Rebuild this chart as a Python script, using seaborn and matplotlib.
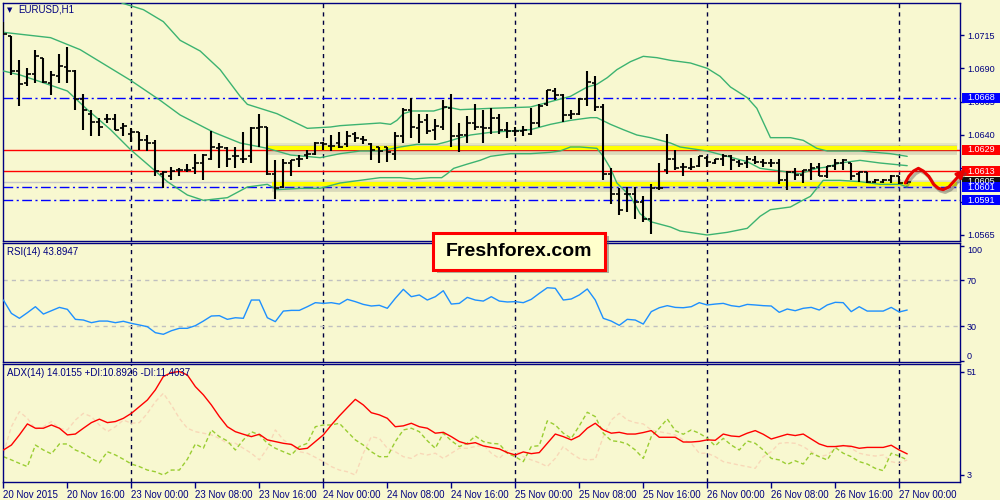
import matplotlib
matplotlib.use("Agg")
import matplotlib.pyplot as plt
import matplotlib.patheffects as pe
import matplotlib.transforms as mtrans
from matplotlib.patches import Rectangle
import numpy as np
import pandas as pd
import seaborn as sns

BG = "#f8f8d0"
NAVY = "#000080"

sns.set_style("white", {"axes.facecolor": BG})
plt.rcParams["font.family"] = ["Liberation Sans", "DejaVu Sans"]

# EURUSD H1 bars, 20 Nov 2015 08:00 .. 27 Nov 2015 01:00 (weekend hours skipped)
bar_open = [1.0724, 1.0714, 1.0688, 1.0679, 1.0686, 1.0698, 1.0679, 1.0684, 1.0691, 1.0688,
            1.0667, 1.0656, 1.0650, 1.0652, 1.0652, 1.0645, 1.0641, 1.0642, 1.0636, 1.0634,
            1.0611, 1.0609, 1.0614, 1.0614, 1.0615, 1.0619, 1.0622, 1.0630, 1.0630, 1.0624,
            1.0622, 1.0624, 1.0645, 1.0646, 1.0611, 1.0601, 1.0619, 1.0622, 1.0625, 1.0626,
            1.0634, 1.0632, 1.0634, 1.0633, 1.0641, 1.0637, 1.0633, 1.0631, 1.0631, 1.0626,
            1.0639, 1.0659, 1.0645, 1.0651, 1.0644, 1.0646, 1.0660, 1.0639, 1.0640, 1.0649,
            1.0646, 1.0645, 1.0653, 1.0644, 1.0643, 1.0643, 1.0641, 1.0649, 1.0663, 1.0673,
            1.0670, 1.0655, 1.0656, 1.0667, 1.0679, 1.0661, 1.0611, 1.0596, 1.0596, 1.0596,
            1.0590, 1.0577, 1.0600, 1.0614, 1.0622, 1.0616, 1.0615, 1.0617, 1.0623, 1.0619,
            1.0622, 1.0624, 1.0620, 1.0619, 1.0621, 1.0620, 1.0619, 1.0619, 1.0606, 1.0612,
            1.0610, 1.0614, 1.0616, 1.0609, 1.0617, 1.0619, 1.0619, 1.0611, 1.0612, 1.0605,
            1.0605, 1.0606, 1.0609, 1.0604]
bar_high = [1.0725, 1.0714, 1.0696, 1.0690, 1.0704, 1.0698, 1.0688, 1.0701, 1.0706, 1.0689,
            1.0671, 1.0659, 1.0653, 1.0656, 1.0656, 1.0649, 1.0645, 1.0642, 1.0640, 1.0636,
            1.0613, 1.0616, 1.0615, 1.0618, 1.0626, 1.0626, 1.0643, 1.0634, 1.0631, 1.0631,
            1.0642, 1.0646, 1.0656, 1.0646, 1.0621, 1.0622, 1.0621, 1.0625, 1.0629, 1.0635,
            1.0635, 1.0640, 1.0642, 1.0643, 1.0642, 1.0639, 1.0634, 1.0631, 1.0631, 1.0642,
            1.0660, 1.0668, 1.0656, 1.0656, 1.0652, 1.0666, 1.0671, 1.0649, 1.0654, 1.0663,
            1.0659, 1.0660, 1.0656, 1.0650, 1.0646, 1.0647, 1.0660, 1.0663, 1.0674, 1.0675,
            1.0671, 1.0659, 1.0668, 1.0688, 1.0684, 1.0663, 1.0615, 1.0600, 1.0601, 1.0601,
            1.0594, 1.0603, 1.0619, 1.0641, 1.0629, 1.0619, 1.0623, 1.0624, 1.0624, 1.0622,
            1.0626, 1.0625, 1.0621, 1.0624, 1.0624, 1.0622, 1.0622, 1.0622, 1.0613, 1.0615,
            1.0614, 1.0619, 1.0619, 1.0617, 1.0622, 1.0622, 1.0619, 1.0612, 1.0612, 1.0607,
            1.0607, 1.0610, 1.0609, 1.0606]
bar_low = [1.0715, 1.0685, 1.0662, 1.0677, 1.0679, 1.0679, 1.0670, 1.0679, 1.0679, 1.0659,
           1.0644, 1.0639, 1.0639, 1.0649, 1.0644, 1.0639, 1.0635, 1.0629, 1.0628, 1.0609,
           1.0600, 1.0606, 1.0609, 1.0612, 1.0611, 1.0606, 1.0621, 1.0615, 1.0616, 1.0615,
           1.0619, 1.0619, 1.0631, 1.0610, 1.0592, 1.0600, 1.0609, 1.0616, 1.0622, 1.0625,
           1.0629, 1.0628, 1.0630, 1.0631, 1.0635, 1.0633, 1.0621, 1.0619, 1.0620, 1.0621,
           1.0634, 1.0638, 1.0634, 1.0641, 1.0636, 1.0644, 1.0631, 1.0627, 1.0634, 1.0644,
           1.0634, 1.0641, 1.0641, 1.0638, 1.0639, 1.0639, 1.0640, 1.0646, 1.0662, 1.0666,
           1.0650, 1.0652, 1.0655, 1.0662, 1.0658, 1.0606, 1.0588, 1.0580, 1.0582, 1.0577,
           1.0575, 1.0566, 1.0599, 1.0611, 1.0614, 1.0609, 1.0614, 1.0616, 1.0616, 1.0618,
           1.0617, 1.0614, 1.0616, 1.0615, 1.0618, 1.0616, 1.0616, 1.0603, 1.0599, 1.0606,
           1.0604, 1.0606, 1.0609, 1.0608, 1.0614, 1.0614, 1.0606, 1.0605, 1.0604, 1.0604,
           1.0604, 1.0604, 1.0603, 1.0603]
bar_close = [1.0716, 1.0688, 1.0678, 1.0686, 1.0699, 1.0680, 1.0685, 1.0692, 1.0688, 1.0667,
             1.0659, 1.0650, 1.0646, 1.0652, 1.0644, 1.0647, 1.0642, 1.0636, 1.0634, 1.0613,
             1.0612, 1.0613, 1.0614, 1.0614, 1.0619, 1.0625, 1.0631, 1.0631, 1.0622, 1.0624,
             1.0622, 1.0645, 1.0646, 1.0611, 1.0600, 1.0619, 1.0621, 1.0622, 1.0626, 1.0634,
             1.0633, 1.0632, 1.0631, 1.0639, 1.0638, 1.0636, 1.0629, 1.0628, 1.0627, 1.0639,
             1.0659, 1.0646, 1.0650, 1.0643, 1.0647, 1.0661, 1.0639, 1.0640, 1.0649, 1.0646,
             1.0645, 1.0653, 1.0644, 1.0643, 1.0643, 1.0644, 1.0649, 1.0662, 1.0674, 1.0670,
             1.0655, 1.0656, 1.0667, 1.0680, 1.0661, 1.0611, 1.0596, 1.0584, 1.0596, 1.0590,
             1.0577, 1.0600, 1.0600, 1.0622, 1.0615, 1.0616, 1.0616, 1.0624, 1.0620, 1.0622,
             1.0624, 1.0621, 1.0618, 1.0622, 1.0620, 1.0619, 1.0619, 1.0606, 1.0612, 1.0610,
             1.0614, 1.0615, 1.0609, 1.0617, 1.0619, 1.0621, 1.0609, 1.0612, 1.0605, 1.0606,
             1.0606, 1.0609, 1.0604, 1.0605]

# Bollinger bands (read as bar position / price)
bb_up_x = [14.8, 17.5, 20.0, 22.1, 24.6, 27.1, 29.6, 30.5, 34.2, 38.0, 40.9, 42.1, 44.6, 47.1,
           48.4, 49.2, 50.0, 51.1, 53.8, 55.5, 57.1, 60.9, 65.9, 68.4, 70.9, 73.0, 74.2, 75.5,
           76.7, 78.4, 80.0, 81.7, 83.4, 85.9, 88.0, 89.6, 90.9, 93.0, 94.2, 95.9, 98.4, 100.0,
           101.7, 103.0, 107.1, 110.9, 113.0]
bb_up_y = [1.0739, 1.0734, 1.0725, 1.0711, 1.0703, 1.0689, 1.0669, 1.0663, 1.0656, 1.0645,
           1.0646, 1.0647, 1.0648, 1.0649, 1.0648, 1.0651, 1.0656, 1.0658, 1.0658, 1.0661,
           1.0659, 1.0660, 1.0661, 1.0665, 1.0669, 1.0676, 1.0678, 1.0683, 1.0689, 1.0695,
           1.0699, 1.0698, 1.0696, 1.0694, 1.0690, 1.0684, 1.0676, 1.0668, 1.0660, 1.0638,
           1.0638, 1.0636, 1.0630, 1.0628, 1.0628, 1.0626, 1.0624]
bb_mid_x = [0.0, 5.9, 9.6, 15.9, 19.6, 22.1, 26.3, 29.6, 33.0, 35.9, 39.6, 42.1, 44.6, 47.1,
            49.6, 51.7, 54.2, 55.5, 57.1, 58.4, 60.9, 63.4, 65.9, 68.4, 70.9, 73.4, 74.2, 75.9,
            77.5, 79.2, 80.9, 83.4, 84.6, 88.0, 90.5, 93.0, 94.6, 97.1, 99.6, 101.7, 103.0,
            104.6, 107.1, 109.6, 111.3, 113.0]
bb_mid_y = [1.0717, 1.0713, 1.0704, 1.0681, 1.0666, 1.0655, 1.0642, 1.0634, 1.0630, 1.0625,
            1.0623, 1.0626, 1.0628, 1.0628, 1.0631, 1.0633, 1.0633, 1.0635, 1.0638, 1.0640,
            1.0642, 1.0643, 1.0644, 1.0648, 1.0651, 1.0653, 1.0653, 1.0648, 1.0644, 1.0640,
            1.0638, 1.0634, 1.0631, 1.0628, 1.0624, 1.0620, 1.0615, 1.0613, 1.0611, 1.0615,
            1.0616, 1.0619, 1.0621, 1.0619, 1.0618, 1.0617]
bb_lo_x = [0.0, 2.1, 4.6, 8.0, 10.5, 13.4, 15.9, 18.8, 20.5, 23.0, 25.0, 28.0, 30.5, 33.0,
           34.2, 37.1, 39.6, 42.1, 44.6, 47.1, 49.6, 51.3, 53.4, 54.8, 55.5, 56.3, 57.9, 59.6,
           60.9, 63.4, 65.9, 68.4, 69.6, 70.9, 72.1, 74.2, 75.0, 75.9, 76.7, 78.4, 79.6, 80.9,
           83.4, 84.6, 88.0, 90.5, 93.0, 94.6, 95.9, 98.4, 99.6, 100.9, 101.7, 102.5, 104.6,
           107.1, 109.6, 112.1, 113.0]
bb_lo_y = [1.0688, 1.0685, 1.0680, 1.0673, 1.0659, 1.0644, 1.0629, 1.0614, 1.0605, 1.0595,
           1.0591, 1.0593, 1.0601, 1.0603, 1.0599, 1.0600, 1.0600, 1.0604, 1.0606, 1.0608,
           1.0608, 1.0607, 1.0608, 1.0608, 1.0611, 1.0615, 1.0618, 1.0621, 1.0624, 1.0626,
           1.0626, 1.0627, 1.0628, 1.0631, 1.0631, 1.0630, 1.0624, 1.0615, 1.0604, 1.0594,
           1.0581, 1.0575, 1.0571, 1.0568, 1.0565, 1.0567, 1.0570, 1.0579, 1.0584, 1.0586,
           1.0590, 1.0594, 1.0600, 1.0606, 1.0606, 1.0605, 1.0603, 1.0603, 1.0601]

rsi = [52.6, 41.0, 36.7, 41.6, 46.8, 40.4, 43.3, 46.2, 44.5, 35.8, 35.2, 32.9, 34.3, 34.3, 32.9,
       34.1, 32.3, 30.9, 29.4, 24.2, 22.8, 25.9, 28.0, 28.0, 30.3, 34.3, 38.7, 39.0, 35.8, 37.2,
       36.7, 52.6, 52.6, 37.2, 33.8, 43.0, 43.6, 43.6, 46.8, 50.3, 49.7, 50.3, 49.1, 53.2, 51.2,
       48.8, 47.4, 48.0, 45.4, 54.1, 61.9, 55.5, 57.0, 52.6, 55.5, 60.7, 49.1, 49.7, 54.9, 52.6,
       51.7, 55.5, 51.7, 50.9, 51.2, 50.3, 53.2, 58.4, 63.3, 62.8, 52.6, 53.5, 57.0, 62.2, 52.6,
       36.7, 34.3, 30.6, 35.8, 35.2, 31.7, 42.5, 45.9, 47.7, 46.2, 45.9, 46.8, 50.3, 48.3, 49.1,
       49.7, 47.7, 46.8, 48.8, 48.3, 47.7, 47.4, 41.9, 44.8, 43.3, 45.4, 46.2, 43.9, 48.3, 50.6,
       50.3, 42.5, 46.8, 43.0, 43.0, 43.0, 46.2, 42.2, 43.9]
adx = [14.6, 16.9, 21.6, 26.7, 24.7, 24.7, 26.2, 24.7, 21.6, 22.0, 24.7, 27.3, 28.9, 27.3, 27.8,
       29.3, 31.6, 34.7, 37.8, 42.5, 48.7, 50.5, 51.0, 49.4, 44.0, 40.2, 35.5, 30.1, 25.4, 23.1,
       21.9, 20.8, 21.9, 19.3, 18.5, 17.7, 17.2, 14.9, 15.4, 18.5, 21.6, 26.2, 30.4, 34.3, 38.1,
       35.5, 31.9, 30.9, 29.3, 25.4, 25.8, 27.0, 25.4, 24.7, 22.4, 22.8, 20.8, 18.5, 17.4, 18.0,
       16.5, 15.8, 15.1, 13.4, 12.3, 13.7, 12.9, 13.4, 17.7, 22.0, 20.8, 19.3, 21.1, 24.7, 27.0,
       23.9, 22.4, 22.8, 22.0, 22.0, 22.7, 23.6, 20.5, 20.5, 20.5, 18.3, 18.3, 18.6, 19.3, 19.1,
       22.0, 21.1, 20.8, 22.4, 23.6, 21.9, 19.7, 20.8, 21.9, 21.3, 22.0, 19.7, 17.4, 16.2, 16.2,
       16.6, 16.3, 15.4, 15.8, 15.8, 15.8, 16.8, 14.6, 12.8]
plus_di = [11.5, 10.0, 8.4, 6.9, 16.9, 14.6, 12.8, 17.4, 17.4, 14.6, 13.1, 10.7, 8.7, 13.8, 12.3,
           10.3, 8.1, 6.9, 5.3, 4.5, 3.0, 5.3, 5.3, 10.3, 17.4, 15.4, 23.9, 20.8, 18.8, 14.6,
           19.3, 23.1, 21.6, 17.7, 15.4, 13.8, 12.3, 16.2, 17.7, 25.4, 26.2, 26.2, 27.0, 23.1,
           19.3, 16.9, 13.8, 11.5, 11.5, 18.5, 23.9, 24.7, 23.1, 18.9, 15.4, 22.4, 18.9, 16.2,
           17.7, 21.1, 18.5, 17.7, 17.4, 13.1, 11.5, 9.2, 16.2, 16.6, 28.1, 26.2, 22.4, 20.0,
           25.8, 32.1, 30.1, 22.4, 18.9, 18.5, 17.4, 14.6, 10.7, 20.8, 24.7, 29.0, 23.6, 21.9,
           23.9, 22.4, 20.0, 16.5, 20.0, 16.9, 14.6, 18.8, 17.7, 14.6, 10.7, 10.0, 7.9, 9.6, 8.1,
           13.1, 11.5, 10.0, 15.8, 13.1, 11.5, 9.2, 8.1, 6.1, 5.0, 13.1, 11.8, 10.0]
minus_di = [13.1, 25.4, 32.4, 29.3, 24.2, 25.4, 27.8, 24.7, 23.9, 28.5, 31.6, 30.1, 26.2, 23.1,
            25.4, 28.5, 27.0, 27.3, 31.6, 37.0, 40.9, 35.5, 29.3, 24.7, 23.1, 22.4, 21.6, 20.0,
            17.7, 17.7, 15.4, 13.1, 10.0, 15.4, 23.9, 19.3, 16.9, 13.8, 13.1, 11.2, 9.2, 6.9,
            5.3, 4.5, 3.0, 13.1, 20.8, 20.0, 15.4, 13.8, 11.5, 10.7, 13.1, 12.3, 13.1, 10.7,
            13.1, 15.4, 15.4, 16.2, 16.9, 13.1, 10.7, 14.3, 14.6, 11.5, 10.0, 8.7, 6.9, 10.7,
            16.2, 13.1, 10.7, 10.0, 10.3, 20.8, 28.5, 31.6, 28.5, 27.3, 26.7, 23.9, 23.1, 22.4,
            21.6, 19.3, 17.7, 13.1, 13.1, 11.5, 9.2, 8.4, 7.6, 6.9, 6.1, 11.5, 13.8, 17.7, 18.0,
            17.7, 16.2, 13.8, 11.5, 12.3, 15.4, 16.9, 15.4, 13.1, 12.3, 11.8, 12.3, 9.2, 8.4,
            10.0]

date_ticks = [0, 8, 16, 24, 32, 40, 48, 56, 64, 72, 80, 88, 96, 104, 112]
date_labels = ["20 Nov 2015", "20 Nov 16:00", "23 Nov 00:00", "23 Nov 08:00", "23 Nov 16:00",
               "24 Nov 00:00", "24 Nov 08:00", "24 Nov 16:00", "25 Nov 00:00", "25 Nov 08:00",
               "25 Nov 16:00", "26 Nov 00:00", "26 Nov 08:00", "26 Nov 16:00", "27 Nov 00:00"]
day_starts = [16, 40, 64, 88, 112]

price_ticks = [1.0565, 1.0590, 1.0615, 1.0640, 1.0665, 1.0690, 1.0715]
blue_levels = [1.0668, 1.0601, 1.0591]
red_levels = [1.0629, 1.0613]
bid_price = 1.0605
zone_price = [1.06305, 1.0603]
zone_start = [33.1, 33.6]
zone_end = 119.25

# hand drawn forecast wave
wave_x = [112.75, 113.2, 113.8, 114.4, 115.0, 115.7, 116.3, 116.9, 117.5, 118.2, 118.8, 119.4, 120.0]
wave_y = [1.0604, 1.0609, 1.0613, 1.0615, 1.0613, 1.0609, 1.0603, 1.0600, 1.0599, 1.0601,
          1.0605, 1.0609, 1.0613]
wave_tip = (120.5, 1.0616)

bars = np.arange(len(bar_close))
ind = pd.DataFrame({"bar": bars, "rsi": rsi, "adx": adx, "pdi": plus_di, "mdi": minus_di})

fig = plt.figure(figsize=(10, 5), dpi=100, facecolor=BG)
ax = fig.add_axes([0.003, 0.518, 0.957, 0.476])
ax_rsi = fig.add_axes([0.003, 0.276, 0.957, 0.238], sharex=ax)
ax_adx = fig.add_axes([0.003, 0.036, 0.957, 0.236], sharex=ax)

for a in (ax, ax_rsi, ax_adx):
    a.set_facecolor(BG)
    for s in a.spines.values():
        s.set_color(NAVY)
        s.set_linewidth(1)
    for d in day_starts:
        a.axvline(d, color="#000040", lw=1, ls=(0, (3, 3)), zorder=1)
    a.yaxis.tick_right()
    a.tick_params(axis="y", right=True, left=False, labelright=True, labelleft=False,
                  length=3, width=1, color=NAVY, labelcolor=NAVY, labelsize=6.5, pad=2)
    a.tick_params(axis="x", bottom=False, labelbottom=False)

ax.set_xlim(-0.05, 119.6)

# ---- price panel
ax.set_ylim(1.05605, 1.0739)
tr = mtrans.blended_transform_factory(ax.transAxes, ax.transData)
for lv in blue_levels:
    ax.axhline(lv, color="#0000ff", lw=1, ls=(0, (7, 2.5, 1.5, 2.5)), zorder=2)
for lv in red_levels:
    ax.axhline(lv, color="#ff0000", lw=1, zorder=2)
ax.axhline(bid_price, color="#c8c8c8", lw=1, zorder=1.5)

for zp, zs in zip(zone_price, zone_start):
    ax.plot([zs, zone_end], [zp, zp], color="#ffff00", lw=3, solid_capstyle="butt", zorder=2.5,
            path_effects=[pe.SimpleLineShadow(offset=(0, -2), shadow_color="0.4", alpha=0.2,
                                              linewidth=7),
                          pe.SimpleLineShadow(offset=(0, 1), shadow_color="0.5", alpha=0.15,
                                              linewidth=5),
                          pe.Normal()])

bb = dict(color="#3cb371", lw=1, estimator=None, legend=False, ax=ax, zorder=3)
sns.lineplot(x=bb_up_x, y=bb_up_y, **bb)
sns.lineplot(x=bb_mid_x, y=bb_mid_y, **bb)
sns.lineplot(x=bb_lo_x, y=bb_lo_y, **bb)

ax.vlines(bars, bar_low, bar_high, color="black", lw=1.5, zorder=4)
ax.hlines(bar_open, bars - 0.42, bars, color="black", lw=1.2, zorder=4)
ax.hlines(bar_close, bars, bars + 0.42, color="black", lw=1.2, zorder=4)

ax.set_yticks(price_ticks)
ax.set_yticklabels([f"{p:.4f}" for p in price_ticks])

tags = [(bid_price, "#101010"), (1.0668, "#0000ff"), (1.0629, "#ff0000"), (1.0613, "#ff0000"),
        (1.0601, "#0000ff"), (1.0591, "#0000ff")]
for price, fc in tags:
    ax.add_patch(Rectangle((1.002, price - 0.00038), 0.04, 0.00076, transform=tr, fc=fc,
                           ec="none", clip_on=False, zorder=6))
    ax.text(1.0075, price, f"{price:.4f}", transform=tr, ha="left", va="center",
            fontsize=6.5, color="white", clip_on=False, zorder=6.5)

ax.plot(wave_x, wave_y, color="#e80000", lw=2.2, clip_on=False, zorder=8,
        solid_capstyle="round",
        path_effects=[pe.SimpleLineShadow(offset=(1.5, -2), shadow_color="0.3", alpha=0.4),
                      pe.Normal()])
ax.annotate("", xy=wave_tip, xytext=(wave_x[-2], wave_y[-2]), annotation_clip=False,
            arrowprops=dict(arrowstyle="-|>", color="#e80000", lw=2.2, mutation_scale=12),
            zorder=8)

ax.text(0.016, 0.971, "EURUSD,H1", transform=ax.transAxes, ha="left", va="center",
        fontsize=7, color=NAVY)
ax.text(0.004, 0.969, "▼", transform=ax.transAxes, ha="left", va="center", fontsize=5,
        color=NAVY, family="DejaVu Sans")

# ---- RSI panel
ax_rsi.set_ylim(-1.3, 102.2)
for lv in (70, 30):
    ax_rsi.axhline(lv, color="#c0c0c0", lw=1, ls=(0, (3, 3)), zorder=1)
sns.lineplot(data=ind, x="bar", y="rsi", ax=ax_rsi, color="#1e90ff", lw=1, estimator=None,
             zorder=3)
ax_rsi.set_yticks([0, 30, 70, 100])
ax_rsi.set_yticklabels(["0", "30", "70", "100"])
lbl = ax_rsi.get_yticklabels()
lbl[0].set_va("bottom")
lbl[3].set_va("top")
ax_rsi.text(0.004, 0.924, "RSI(14) 43.8947", transform=ax_rsi.transAxes, ha="left",
            va="center", fontsize=7, color=NAVY)

# ---- ADX panel
ax_adx.set_ylim(-0.25, 54.5)
sns.lineplot(data=ind, x="bar", y="mdi", ax=ax_adx, color="#f8d8b8", lw=1, ls=(0, (3, 2)),
             estimator=None, zorder=2)
sns.lineplot(data=ind, x="bar", y="pdi", ax=ax_adx, color="#9acd32", lw=1, ls=(0, (3, 2)),
             estimator=None, zorder=2.5)
sns.lineplot(data=ind, x="bar", y="adx", ax=ax_adx, color="#ff0000", lw=1, estimator=None,
             zorder=3)
ax_adx.set_yticks([3, 51])
ax_adx.text(0.004, 0.924, "ADX(14) 14.0155 +DI:10.8926 -DI:11.4037", transform=ax_adx.transAxes,
            ha="left", va="center", fontsize=7, color=NAVY, zorder=5)

ax_adx.set_xticks(date_ticks)
ax_adx.set_xticklabels(date_labels, ha="left")
ax_adx.tick_params(axis="x", bottom=True, labelbottom=True, length=4, width=1, color=NAVY,
                   labelcolor=NAVY, labelsize=7, pad=1.5)
for a in (ax, ax_rsi, ax_adx):
    a.set_xlabel("")
    a.set_ylabel("")
ax.tick_params(axis="x", labelbottom=False)
ax_rsi.tick_params(axis="x", labelbottom=False)

# ---- watermark box
fig.add_artist(Rectangle((0.4365, 0.454), 0.172, 0.074, transform=fig.transFigure, fc="0.35",
                         alpha=0.45, ec="none", zorder=10))
fig.add_artist(Rectangle((0.433, 0.46), 0.172, 0.074, transform=fig.transFigure, fc="#ffffcc",
                         ec="#ff0000", lw=2.2, zorder=11))
fig.text(0.519, 0.497, "Freshforex.com", ha="center", va="center", fontsize=14,
         fontweight="bold", color="black", zorder=12)

fig.savefig("out.png", dpi=100, facecolor=BG)
